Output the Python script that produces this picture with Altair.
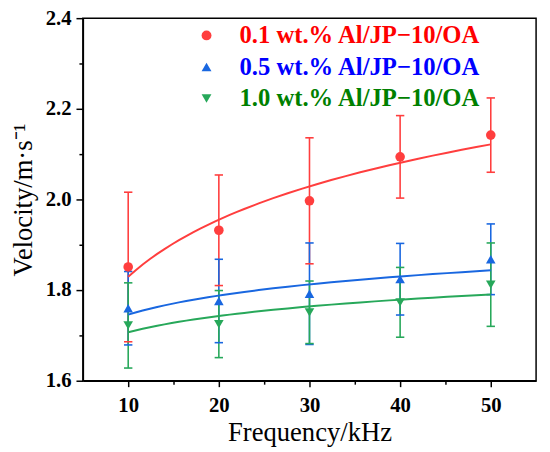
import altair as alt
import pandas as pd

freq = [10, 20, 30, 40, 50]
series_names = ["0.1 wt.% Al/JP−10/OA", "0.5 wt.% Al/JP−10/OA", "1.0 wt.% Al/JP−10/OA"]
vel_01 = [1.851, 1.932, 1.997, 2.094, 2.142]
err_01 = [0.165, 0.122, 0.139, 0.091, 0.082]
vel_05 = [1.760, 1.776, 1.792, 1.824, 1.868]
err_05 = [0.081, 0.092, 0.112, 0.079, 0.078]
vel_10 = [1.722, 1.725, 1.751, 1.773, 1.812]
err_10 = [0.094, 0.074, 0.069, 0.077, 0.092]

x_major = [10, 20, 30, 40, 50]
x_minor = [15, 25, 35, 45]
y_major = [1.6, 1.8, 2.0, 2.2, 2.4]
y_minor = [1.7, 1.9, 2.1, 2.3]

marker_colors = ["#FF3E3E", "#1967E0", "#27A85A"]
label_colors = ["#FF0000", "#0000FF", "#008000"]
shapes = ["circle", "triangle-up", "triangle-down"]

rows = []
for name, vals, errs in zip(series_names, [vel_01, vel_05, vel_10], [err_01, err_05, err_10]):
    for f, v, e in zip(freq, vals, errs):
        rows.append({"series": name, "freq": f, "vel": v, "err": e})
df = pd.DataFrame(rows)

FONT = "Liberation Serif"

xs = alt.Scale(domain=[5, 55], nice=False)
ys = alt.Scale(domain=[1.6, 2.4], nice=False)
cs = alt.Scale(domain=series_names, range=marker_colors)
ss = alt.Scale(domain=series_names, range=shapes)

x_axis = alt.Axis(values=x_major, title="Frequency/kHz", orient="bottom", tickSize=6,
                  labelPadding=8, titlePadding=5, grid=False)
y_axis = alt.Axis(values=y_major, title="Velocity/m·s⁻¹", orient="left", format=".1f",
                  tickSize=7, labelPadding=5, titlePadding=8, grid=False)

base = alt.Chart(df)
X = alt.X("freq:Q", scale=xs, axis=x_axis)
C = alt.Color("series:N", scale=cs, legend=None)

lo = base.transform_calculate(lo="datum.vel - datum.err", hi="datum.vel + datum.err")

rules = lo.mark_rule(strokeWidth=1.6).encode(
    x=X, y=alt.Y("lo:Q", scale=ys, axis=y_axis), y2="hi:Q", color=C)
cap_lo = lo.mark_tick(orient="horizontal", size=8.5, thickness=1.6, opacity=1).encode(
    x=X, y=alt.Y("lo:Q", scale=ys, axis=y_axis), color=C)
cap_hi = lo.mark_tick(orient="horizontal", size=8.5, thickness=1.6, opacity=1).encode(
    x=X, y=alt.Y("hi:Q", scale=ys, axis=y_axis), color=C)

lines = base.transform_regression(
    "freq", "vel", groupby=["series"], method="log", extent=[10, 50]
).mark_line(strokeWidth=2).encode(
    x=X, y=alt.Y("vel:Q", scale=ys, axis=y_axis), color=C)

label_expr = "datum.index == 0 ? '{}' : (datum.index == 1 ? '{}' : '{}')"

legend = alt.Legend(
    title=None, orient="none", legendX=113, legendY=5, padding=0,
    labelFont=FONT, labelFontWeight="bold", labelFontSize=25, labelLimit=400,
    labelColor=alt.ExprRef(label_expr.format(*label_colors)),
    symbolFillColor=alt.ExprRef(label_expr.format(*marker_colors)),
    symbolSize=100, symbolStrokeWidth=0, symbolOpacity=1, labelOffset=21, rowPadding=6,
)

points = base.mark_point(filled=True, size=95, opacity=1).encode(
    x=X, y=alt.Y("vel:Q", scale=ys, axis=y_axis),
    color=alt.Color("series:N", scale=cs, legend=None),
    shape=alt.Shape("series:N", scale=ss, legend=legend),
)

bars_lines = alt.layer(rules, cap_lo, cap_hi, lines)
main = alt.layer(bars_lines, points).resolve_scale(color="independent")

minor = base.mark_point(opacity=0).encode(
    x=alt.X("freq:Q", scale=xs, axis=alt.Axis(values=x_minor, labels=False, title=None,
                                               tickSize=3.5, domain=False, grid=False, orient="bottom")),
    y=alt.Y("vel:Q", scale=ys, axis=alt.Axis(values=y_minor, labels=False, title=None,
                                              tickSize=4, domain=False, grid=False, orient="left")),
)

chart = alt.layer(main, minor).resolve_axis(x="independent", y="independent").properties(
    width=460, height=368,
    background="white",
    autosize=alt.AutoSizeParams(type="none"),
    padding={"left": 76, "top": 7, "right": 6, "bottom": 68},
).configure_view(stroke="black", strokeWidth=1.5).configure_axis(
    labelFont=FONT, labelFontWeight="bold", labelFontSize=21, labelColor="black",
    titleFont=FONT, titleFontWeight="normal", titleFontSize=27, titleColor="black",
    domainColor="black", domainWidth=1.5, tickColor="black", tickWidth=1.5,
)

chart.save("out.html", embed_options={"renderer": "svg", "actions": False})
